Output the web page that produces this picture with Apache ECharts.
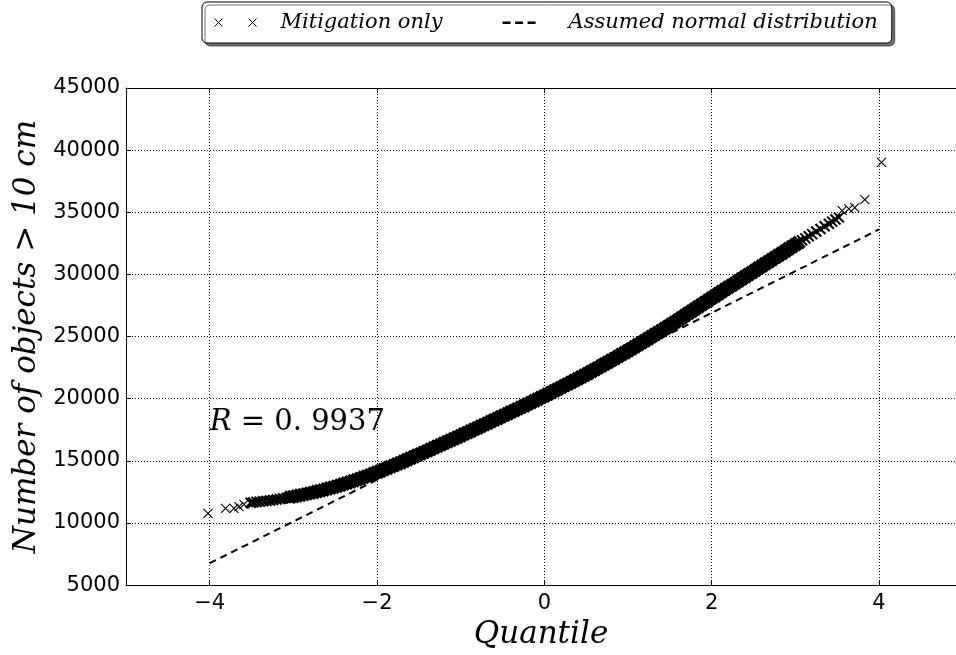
<!DOCTYPE html>
<html><head><meta charset="utf-8">
<script src="https://cdn.jsdelivr.net/npm/echarts@6/dist/echarts.min.js"></script>
<style>html,body{margin:0;padding:0;background:#fff}#c{width:956px;height:655px}</style>
</head><body><div id="c"></div>
<script>
// ---- data ----
const seriesNames = ['Mitigation only', 'Assumed normal distribution'];
const quantiles = [
-4.02,-3.81,-3.71,-3.65,-3.59,-3.51,-3.48,-3.44,-3.40,-3.36,-3.32,-3.28,-3.24,
-3.20,-3.16,-3.12,-3.08,-3.04,
-3.00,-2.96,-2.92,-2.88,-2.84,-2.80,-2.76,-2.72,-2.68,-2.64,-2.60,-2.56,-2.52,
-2.48,-2.44,-2.40,-2.36,-2.32,-2.28,-2.24,-2.20,-2.16,-2.12,-2.08,-2.04,
-2.00,-1.96,-1.92,-1.88,-1.84,-1.80,-1.76,-1.72,-1.68,-1.64,-1.60,-1.56,-1.52,
-1.48,-1.44,-1.40,-1.36,-1.32,-1.28,-1.24,-1.20,-1.16,-1.12,-1.08,-1.04,
-1.00,-0.96,-0.92,-0.88,-0.84,-0.80,-0.76,-0.72,-0.68,-0.64,-0.60,-0.56,-0.52,
-0.48,-0.44,-0.40,-0.36,-0.32,-0.28,-0.24,-0.20,-0.16,-0.12,-0.08,-0.04,
0.00,0.04,0.08,0.12,0.16,0.20,0.24,0.28,0.32,0.36,0.40,0.44,0.48,
0.52,0.56,0.60,0.64,0.68,0.72,0.76,0.80,0.84,0.88,0.92,0.96,
1.00,1.04,1.08,1.12,1.16,1.20,1.24,1.28,1.32,1.36,1.40,1.44,1.48,
1.52,1.56,1.60,1.64,1.68,1.72,1.76,1.80,1.84,1.88,1.92,1.96,
2.00,2.04,2.08,2.12,2.16,2.20,2.24,2.28,2.32,2.36,2.40,2.44,2.48,
2.52,2.56,2.60,2.64,2.68,2.72,2.76,2.80,2.84,2.88,2.92,2.96,
3.00,3.04,3.08,3.12,3.16,3.20,
3.25,3.30,3.35,3.40,3.44,3.48,3.52,3.56,3.64,3.71,3.83,4.03
];
const objects = [
10770,11170,11170,11310,11490,11620,11650,11690,11720,11750,11780,11810,11850,
11890,11930,11980,12020,12070,
12120,12170,12230,12280,12340,12400,12460,12530,12600,12660,12730,12810,12880,
12960,13040,13130,13210,13300,13390,13480,13580,13670,13770,13870,13980,
14080,14190,14300,14410,14520,14630,14740,14850,14970,15080,15200,15320,15440,
15560,15680,15800,15930,16050,16170,16290,16410,16530,16660,16780,16900,
17020,17150,17270,17400,17530,17650,17780,17910,18030,18160,18280,18410,18540,
18660,18790,18920,19050,19180,19310,19440,19570,19700,19830,19960,20090,
20220,20360,20500,20640,20770,20910,21050,21190,21330,21470,21600,21740,21880,
22030,22180,22330,22480,22630,22790,22940,23090,23240,23390,23550,23700,
23850,24010,24180,24340,24510,24670,24830,25000,25160,25330,25490,25650,25820,
25990,26160,26340,26520,26690,26870,27040,27220,27400,27570,27750,27920,
28100,28270,28440,28620,28790,28960,29130,29300,29480,29650,29820,29990,30160,
30340,30510,30680,30850,31020,31200,31370,31540,31710,31880,32060,32230,
32400,32570,32740,32900,33070,33240,
33450,33660,33870,34080,34250,34420,34590,35140,35280,35380,36020,39010
];
const fitQuantiles = [-4, 4];
const fitObjects = [6760, 33620];
const xTicks = [-4, -2, 0, 2, 4];
const xRange = [-5, 4.92];   // visible window (the original axis runs to 5, cut by the image edge)
const yRange = [5000, 45000];
const yStep = 5000;
const xTitle = 'Quantile';
const yTitle = 'Number of objects > 10 cm';
const annotX = -4, annotY = 17500;
const annotR = 'R', annotValue = ' = 0. 9937';

// ---- chart ----
const serif = 'DejaVu Serif';
const sans = 'DejaVu Sans';
const allPoints = quantiles.map((q, i) => [q, objects[i]]);
// crowded middle of the sample drawn with heavier strokes so it merges into a solid band
const solidLimit = 3.05, denseLimit = 3.53;
const solidPoints = allPoints.filter(p => Math.abs(p[0]) <= solidLimit);
const densePoints = allPoints.filter(p => Math.abs(p[0]) > solidLimit && Math.abs(p[0]) <= denseLimit);
const sparsePoints = allPoints.filter(p => Math.abs(p[0]) > denseLimit);
const fitData = fitQuantiles.map((q, i) => [q, fitObjects[i]]);
const xSym = 'path://M0,0L10,10M10,0L0,10';
const legendIcon1 = 'path://M0,0L8,8M8,0L0,8M34,0L42,8M42,0L34,8M61,0L61,0';
const legendIcon2 = 'path://M0,3h8v2.4h-8zM12.5,3h8v2.4h-8zM25,3h8v2.4h-8zM0,0L0,0M61,8L61,8';
const minus = v => (v < 0 ? '\u2212' + Math.abs(v) : String(v));
const scatterBase = (data, size, width) => ({
  name: seriesNames[0], type: 'scatter', data: data,
  symbol: xSym, symbolSize: size,
  itemStyle: {color: 'rgba(0,0,0,0)', borderColor: '#000', borderWidth: width, opacity: 1},
  emphasis: {disabled: true}, z: 2
});

const axisLineStyle = {show: true, onZero: false, lineStyle: {color: '#000', width: 1}};
const option = {
  animation: false,
  backgroundColor: '#fff',
  grid: {left: 126, right: 0, top: 88, bottom: 68, containLabel: false},
  legend: {
    left: 202, top: 2,
    padding: [10, 14, 10, 12],
    itemGap: 60, itemWidth: 61, itemHeight: 8,
    backgroundColor: '#fff', borderColor: '#000', borderWidth: 1, borderRadius: 5,
    shadowColor: 'rgba(0,0,0,0.55)', shadowBlur: 0, shadowOffsetX: 3, shadowOffsetY: 3,
    textStyle: {fontFamily: serif, fontStyle: 'italic', fontSize: 21, color: '#000'},
    selectedMode: false,
    data: [
      {name: seriesNames[0], icon: legendIcon1, itemStyle: {color: 'rgba(0,0,0,0)', borderColor: '#000', borderWidth: 1}},
      {name: seriesNames[1], icon: legendIcon2, itemStyle: {color: '#000', borderWidth: 0}}
    ]
  },
  xAxis: [{
    type: 'value', min: xRange[0], max: xRange[1],
    name: xTitle, nameLocation: 'middle', nameGap: 30,
    nameTextStyle: {fontFamily: serif, fontStyle: 'italic', fontSize: 31, color: '#000'},
    axisLine: axisLineStyle,
    axisTick: {show: true, inside: true, length: 5, customValues: xTicks, lineStyle: {color: '#000'}},
    axisLabel: {customValues: xTicks, formatter: minus, fontFamily: sans, fontSize: 21, color: '#000', margin: 8},
    splitLine: {show: true, lineStyle: {color: '#000', width: 1, type: [1, 2]}}
  }, {
    type: 'value', min: xRange[0], max: xRange[1], position: 'top',
    axisLine: axisLineStyle,
    axisTick: {show: true, inside: true, length: 5, customValues: xTicks, lineStyle: {color: '#000'}},
    axisLabel: {show: false, customValues: xTicks},
    splitLine: {show: false}
  }],
  yAxis: {
    type: 'value', min: yRange[0], max: yRange[1], interval: yStep,
    name: yTitle, nameLocation: 'middle', nameGap: 78, nameRotate: 90,
    nameTextStyle: {fontFamily: serif, fontStyle: 'italic', fontSize: 31, color: '#000'},
    axisLine: axisLineStyle,
    axisTick: {show: true, inside: true, length: 5, lineStyle: {color: '#000'}},
    axisLabel: {formatter: v => String(v), fontFamily: sans, fontSize: 21, color: '#000', margin: 6},
    splitLine: {show: true, lineStyle: {color: '#000', width: 1, type: [1, 2]}}
  },
  series: [
    scatterBase(solidPoints, 11, 4.2),
    scatterBase(densePoints, 10, 2.0),
    scatterBase(sparsePoints, 9, 1.1),
    {
      name: seriesNames[1], type: 'line', data: fitData, symbol: 'none',
      lineStyle: {color: '#000', width: 2, type: [7, 5]},
      itemStyle: {color: '#000'},
      emphasis: {disabled: true}, z: 3
    }
  ]
};
const chart = echarts.init(document.getElementById('c'), null, {renderer: 'canvas'});
chart.setOption(option);
const p = chart.convertToPixel({gridIndex: 0}, [annotX, annotY]);
chart.setOption({graphic: [{
  type: 'text', x: p[0], y: p[1] + 7, z: 10,
  style: {
    text: '{a|' + annotR + '}{b|' + annotValue + '}',
    verticalAlign: 'bottom', align: 'left',
    rich: {
      a: {fontFamily: serif, fontStyle: 'italic', fontSize: 29, fill: '#000', color: '#000'},
      b: {fontFamily: serif, fontSize: 29, fill: '#000', color: '#000'}
    }
  }
}]});
</script></body></html>
